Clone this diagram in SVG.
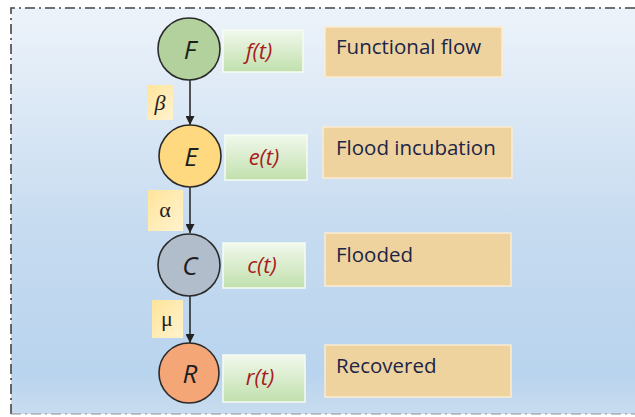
<svg xmlns="http://www.w3.org/2000/svg" width="635" height="417" viewBox="0 0 635 417">
<defs>
<linearGradient id="bg" x1="0" y1="0" x2="0" y2="1">
<stop offset="0" stop-color="#edf3fa"/>
<stop offset="0.55" stop-color="#c6dbf0"/>
<stop offset="0.9" stop-color="#b9d4ee"/>
<stop offset="1" stop-color="#c9dcee"/>
</linearGradient>
<linearGradient id="gr" x1="0" y1="0" x2="0" y2="1">
<stop offset="0" stop-color="#f1f8ec"/>
<stop offset="1" stop-color="#c1e0ad"/>
</linearGradient>
<linearGradient id="yl" x1="0" y1="0" x2="1" y2="1">
<stop offset="0" stop-color="#ffe49a"/>
<stop offset="1" stop-color="#fff3cf"/>
</linearGradient>
<marker id="ah" viewBox="0 0 10 10" refX="10" refY="5" markerWidth="9" markerHeight="9" markerUnits="userSpaceOnUse" orient="auto">
<path d="M0,0 L10,5 L0,10 z" fill="#222"/>
</marker>
<style>
.node{stroke:#2a2a2a;stroke-width:1.6}
.let{font-family:"Open Sans","Liberation Sans",sans-serif;font-style:italic;font-size:26px;fill:#1e1e1e;text-anchor:middle}
.fn{font-family:"Open Sans","Liberation Sans",sans-serif;font-style:italic;font-size:22px;fill:#a81c1c;text-anchor:middle}
.gb{fill:url(#gr);stroke:#f6fbf2;stroke-width:1.5}
.tb{fill:#eed39f;stroke:#fbecd3;stroke-width:1.5}
.tt{font-family:"Open Sans","Liberation Sans",sans-serif;font-size:20.5px;fill:#1c2546}
.yb{fill:url(#yl)}
.gk{font-family:"Liberation Serif","DejaVu Serif",serif;font-size:22px;fill:#222;text-anchor:middle}
.edge{stroke:#222;stroke-width:1.5;fill:none;marker-end:url(#ah)}
</style>
</defs>
<rect x="0" y="0" width="635" height="417" fill="#ffffff"/>
<rect x="11" y="8" width="640" height="406" fill="url(#bg)"/>
<path d="M11,414 V8 H640" fill="none" stroke="#444" stroke-width="1.6" stroke-dasharray="10,4,2,4"/>
<path d="M11,414 H640" fill="none" stroke="#8a9098" stroke-width="1.2" stroke-dasharray="10,4,2,4"/>

<g id="connectors">
<line class="edge" x1="190" y1="80" x2="190" y2="125"/>
<line class="edge" x1="190" y1="187" x2="190" y2="233"/>
<line class="edge" x1="190" y1="296" x2="190" y2="343"/>
</g>

<g id="label-beta">
<rect class="yb" x="147" y="85" width="26" height="35"/>
<text class="gk" x="160" y="110" font-style="italic">β</text>
</g>
<g id="label-alpha">
<rect class="yb" x="148" y="190" width="35" height="41"/>
<text class="gk" x="165" y="217">α</text>
</g>
<g id="label-mu">
<rect class="yb" x="152" y="300" width="31" height="38"/>
<text class="gk" x="167" y="326">μ</text>
</g>

<g id="node-F">
<circle class="node" cx="189" cy="49" r="31" fill="#b2d19d"/>
<text class="let" x="190" y="59">F</text>
</g>
<g id="node-E">
<circle class="node" cx="190" cy="156" r="31" fill="#fed97f"/>
<text class="let" x="191" y="166">E</text>
</g>
<g id="node-C">
<circle class="node" cx="189" cy="265" r="31" fill="#b2bdcc"/>
<text class="let" x="190" y="275">C</text>
</g>
<g id="node-R">
<circle class="node" cx="189" cy="373" r="30" fill="#f4a677"/>
<text class="let" x="190" y="383">R</text>
</g>

<g id="ft">
<rect class="gb" x="223" y="30" width="80" height="42"/>
<text class="fn" x="259" y="59">f(t)</text>
</g>
<g id="et">
<rect class="gb" x="225" y="135" width="82" height="45"/>
<text class="fn" x="264" y="165">e(t)</text>
</g>
<g id="ct">
<rect class="gb" x="223" y="243" width="82" height="45"/>
<text class="fn" x="262" y="273">c(t)</text>
</g>
<g id="rt">
<rect class="gb" x="223" y="355" width="82" height="47"/>
<text class="fn" x="260" y="385">r(t)</text>
</g>

<g id="functional-flow">
<rect class="tb" x="325" y="27" width="177" height="50"/>
<text class="tt" x="336" y="54">Functional flow</text>
</g>
<g id="flood-incubation">
<rect class="tb" x="323" y="127" width="189" height="51"/>
<text class="tt" x="336" y="155">Flood incubation</text>
</g>
<g id="flooded">
<rect class="tb" x="325" y="233" width="186" height="53"/>
<text class="tt" x="336" y="262">Flooded</text>
</g>
<g id="recovered">
<rect class="tb" x="325" y="345" width="186" height="52"/>
<text class="tt" x="336" y="373">Recovered</text>
</g>
</svg>
